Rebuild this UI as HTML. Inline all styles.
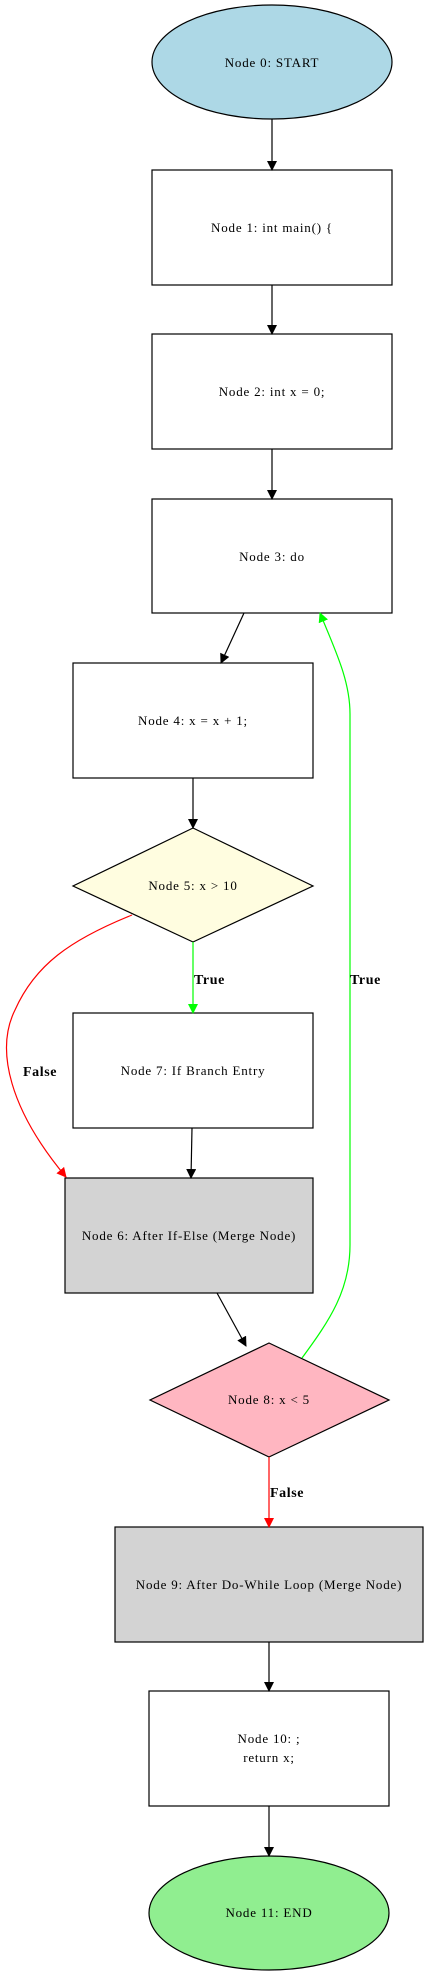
<!DOCTYPE html>
<html><head><style>body{margin:0;background:#fff}svg{display:block}</style></head><body>
<svg width="428" height="1977" viewBox="0 0 428 1977" xmlns="http://www.w3.org/2000/svg" font-family="Liberation Serif, serif">
<defs>
<marker id="ab" markerWidth="10" markerHeight="10" refX="9" refY="5" orient="auto" markerUnits="userSpaceOnUse"><path d="M0,0 L10,5 L0,10 z" fill="#000"/></marker>
<marker id="ar" markerWidth="10" markerHeight="10" refX="9" refY="5" orient="auto" markerUnits="userSpaceOnUse"><path d="M0,0 L10,5 L0,10 z" fill="#f00"/></marker>
<marker id="ag" markerWidth="10" markerHeight="10" refX="9" refY="5" orient="auto" markerUnits="userSpaceOnUse"><path d="M0,0 L10,5 L0,10 z" fill="#0f0"/></marker>
</defs>
<g stroke="#000" stroke-width="1.2">
<ellipse cx="272" cy="62" rx="120" ry="57" fill="#add8e6"/>
<rect x="152" y="170" width="240" height="115" fill="#fff"/>
<rect x="152" y="334" width="240" height="115" fill="#fff"/>
<rect x="152" y="499" width="240" height="114" fill="#fff"/>
<rect x="73" y="663" width="240" height="115" fill="#fff"/>
<polygon points="193,828 313,886 193,942 73,886" fill="#fffde0"/>
<rect x="73" y="1013" width="240" height="115" fill="#fff"/>
<rect x="65" y="1178" width="248" height="115" fill="#d3d3d3"/>
<polygon points="269,1343 389,1400 269,1457 150,1400" fill="#ffb6c1"/>
<rect x="115" y="1527" width="308" height="115" fill="#d3d3d3"/>
<rect x="149" y="1691" width="240" height="115" fill="#fff"/>
<ellipse cx="269" cy="1913" rx="120" ry="57" fill="#90ee90"/>
</g>
<g fill="none" stroke-width="1.2">
<path d="M272,119 L272,170" stroke="#000" marker-end="url(#ab)"/>
<path d="M272,285 L272,334" stroke="#000" marker-end="url(#ab)"/>
<path d="M272,449 L272,499" stroke="#000" marker-end="url(#ab)"/>
<path d="M244,613 L221,663" stroke="#000" marker-end="url(#ab)"/>
<path d="M193,778 L193,828" stroke="#000" marker-end="url(#ab)"/>
<path d="M193,942 L193,1013" stroke="#0f0" marker-end="url(#ag)"/>
<path d="M192,1128 L191,1178" stroke="#000" marker-end="url(#ab)"/>
<path d="M132,915 C70,940 35,965 15,1010 C-5,1050 10,1110 66,1177" stroke="#f00" marker-end="url(#ar)"/>
<path d="M217,1293 L246,1346" stroke="#000" marker-end="url(#ab)"/>
<path d="M302,1358 C330,1320 350,1290 350,1245 L350,714 C350,680 335,650 320,613" stroke="#0f0" marker-end="url(#ag)"/>
<path d="M269,1457 L269,1527" stroke="#f00" marker-end="url(#ar)"/>
<path d="M269,1642 L269,1691" stroke="#000" marker-end="url(#ab)"/>
<path d="M269,1806 L269,1856" stroke="#000" marker-end="url(#ab)"/>
</g>
<g font-size="13" text-anchor="middle" fill="#000" letter-spacing="0.8">
<text x="272" y="67">Node 0: START</text>
<text x="272" y="232">Node 1: int main() {</text>
<text x="272" y="396">Node 2: int x = 0;</text>
<text x="272" y="561">Node 3: do</text>
<text x="193" y="725">Node 4: x = x + 1;</text>
<text x="193" y="890">Node 5: x &gt; 10</text>
<text x="193" y="1075">Node 7: If Branch Entry</text>
<text x="189" y="1240">Node 6: After If-Else (Merge Node)</text>
<text x="269" y="1404">Node 8: x &lt; 5</text>
<text x="269" y="1589">Node 9: After Do-While Loop (Merge Node)</text>
<text x="269" y="1743">Node 10: ;</text>
<text x="269" y="1762">return x;</text>
<text x="269" y="1917">Node 11: END</text>
</g>
<g font-size="14" font-weight="bold" fill="#000" letter-spacing="0.6">
<text x="194" y="984">True</text>
<text x="350" y="984">True</text>
<text x="23" y="1076">False</text>
<text x="270" y="1497">False</text>
</g>
</svg>
</body></html>
